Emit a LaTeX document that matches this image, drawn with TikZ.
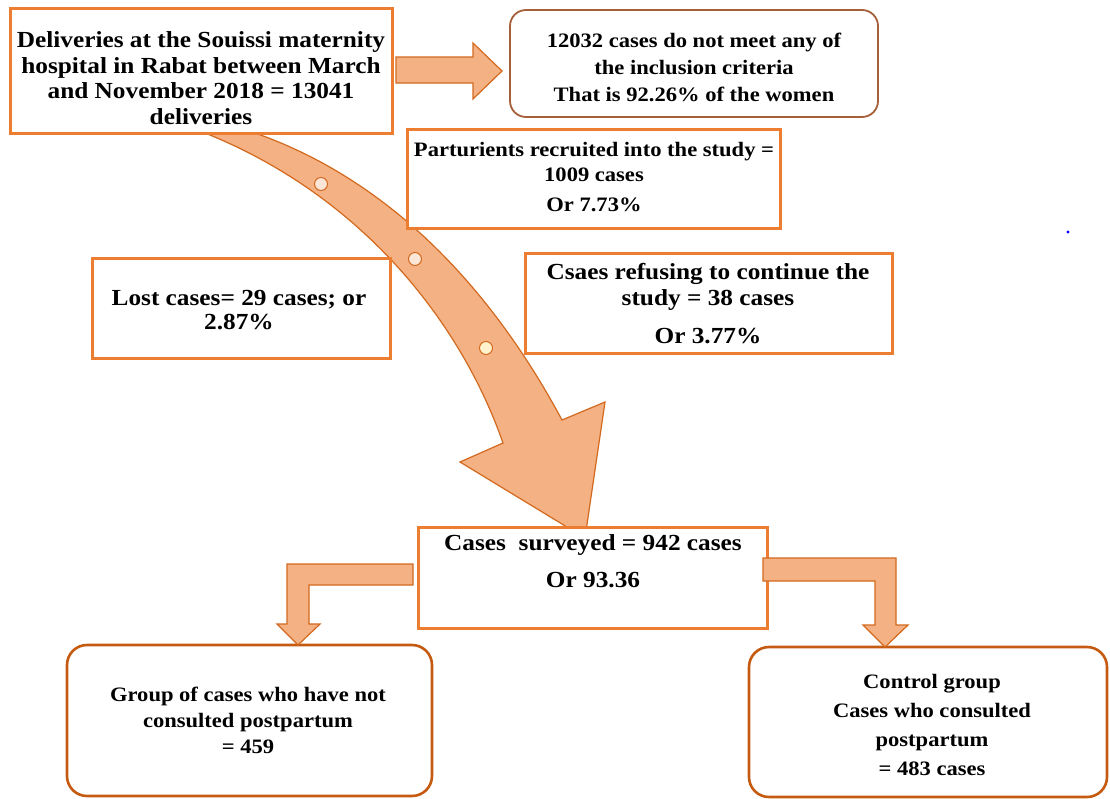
\documentclass[tikz,border=0pt]{standalone}
\usepackage{fontspec}
\setmainfont{Liberation Serif}
\newfontfamily\bx[FakeStretch=1.1]{Liberation Serif}
\usetikzlibrary{calc}
\definecolor{obord}{HTML}{ED7D31}
\definecolor{ofill}{HTML}{F4B183}
\definecolor{odark}{HTML}{C55A11}
\definecolor{oline}{HTML}{D2691E}
\definecolor{brownb}{HTML}{A5603A}
\definecolor{dotpink}{HTML}{FBE5D6}
\definecolor{dotyel}{HTML}{FFF2CC}
\begin{document}
\begin{tikzpicture}[x=1pt,y=-1pt,
  box/.style={draw=obord, line width=3pt, fill=white, inner sep=0pt, rectangle},
  rbox/.style={draw=odark, line width=2.6pt, fill=white, inner sep=0pt, rectangle, rounded corners=20pt},
  bbox/.style={draw=brownb, line width=1.8pt, fill=white, inner sep=0pt, rectangle, rounded corners=16pt},
  blk/.style={fill=ofill, draw=oline, line width=1.2pt, line join=miter},
  dotc/.style={circle, draw=oline, line width=1pt, minimum size=13pt, inner sep=0pt},
  txt/.style={align=center, inner sep=0pt, text=black},
  big/.style={font={\bx\bfseries\fontsize{23}{25.7}\selectfont}},
  small/.style={font={\bx\bfseries\fontsize{20.5}{27}\selectfont}}]

\useasboundingbox[fill=white] (0,0) rectangle (1110,798);

% curved block arrow
\draw[blk] (205,120) -- (205,133) .. controls (360,195) and (460,320) .. (503,443)
  -- (460,462) -- (585,538) -- (605,402) -- (562,420)
  .. controls (495,295) and (395,182) .. (255,133) -- (255,120) -- cycle;
\node[dotc, fill=dotpink] (d1) at (321,184) {};
\node[dotc, fill=dotpink] (d2) at (415,259) {};
\node[dotc, fill=dotyel] (d3) at (486,348) {};

% boxes
\node[box, minimum width=382pt, minimum height=125pt] (A) at (201,70.5) {};
\node[bbox, minimum width=368pt, minimum height=107pt] (B) at (694,63.5) {};
\node[box, minimum width=373pt, minimum height=99pt] (C) at (593.5,178.5) {};
\node[box, minimum width=298pt, minimum height=100pt] (D) at (241,308) {};
\node[box, minimum width=367pt, minimum height=100pt] (E) at (708.5,303) {};
\node[box, minimum width=349pt, minimum height=101pt] (F) at (592.5,577.5) {};
\node[rbox, minimum width=365pt, minimum height=151pt] (G) at (249.5,720.5) {};
\node[rbox, minimum width=358pt, minimum height=150pt] (H) at (928,722) {};

% straight block arrow A -> B
\draw[blk] (396,57) -- (473,57) -- (473,43) -- (502,71) -- (473,99) -- (473,83) -- (396,83) -- cycle;

% elbow arrows F -> G, F -> H
\draw[blk] (413,564) -- (287,564) -- (287,624) -- (277,624) -- (298,645) -- (320,624)
  -- (309,624) -- (309,585) -- (413,585) -- cycle;
\draw[blk] (763,558) -- (896,558) -- (896,625) -- (908,625) -- (885,647) -- (863,625)
  -- (875,625) -- (875,581) -- (763,581) -- cycle;

% texts
\node[txt, big] (tA) at (201,78) {Deliveries at the Souissi maternity\\hospital in Rabat between March\\and November 2018 = 13041\\deliveries};
\node[txt, small] (tB) at (694,67) {12032 cases do not meet any of\\the inclusion criteria\\That is 92.26\% of the women};
\node[txt, font={\bx\bfseries\fontsize{20.5}{25}\selectfont}] (tC) at (594,177.5) {Parturients recruited into the study =\\1009 cases\\[5pt]Or 7.73\%};
\node[txt, font={\bx\bfseries\fontsize{23}{24}\selectfont}] (tD) at (239,310) {Lost cases= 29 cases; or\\2.87\%};
\node[txt, font={\bx\bfseries\fontsize{23}{26}\selectfont}] (tE) at (708,304) {Csaes refusing to continue the\\study = 38 cases\\[12pt]Or 3.77\%};
\node[txt, font={\bx\bfseries\fontsize{23}{37}\selectfont}] (tF) at (593,561.5) {Cases\ \ surveyed = 942 cases\\Or 93.36};
\node[txt, font={\bx\bfseries\fontsize{20.5}{26}\selectfont}] (tG) at (248,720) {Group of cases who have not\\consulted postpartum\\= 459};
\node[txt, font={\bx\bfseries\fontsize{20.5}{28.7}\selectfont}] (tH) at (932,725) {Control group\\Cases who consulted\\postpartum\\= 483 cases};

\fill[blue] (1068,232) circle (1.6);
\end{tikzpicture}
\end{document}
